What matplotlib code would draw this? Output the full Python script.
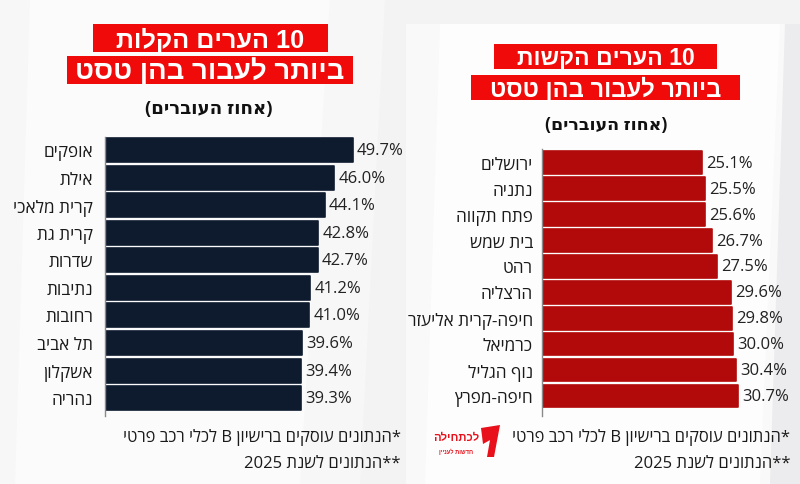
import re
import matplotlib
matplotlib.use("Agg")
import matplotlib.pyplot as plt
from matplotlib.patches import Rectangle, Polygon

plt.rcParams['font.family'] = ['Open Sans', 'DejaVu Sans']

# ---- data ----
easy_cities = ["אופקים", "אילת", "קרית מלאכי", "קרית גת", "שדרות",
               "נתיבות", "רחובות", "תל אביב", "אשקלון", "נהריה"]
easy_values = [49.7, 46.0, 44.1, 42.8, 42.7, 41.2, 41.0, 39.6, 39.4, 39.3]

hard_cities = ["ירושלים", "נתניה", "פתח תקווה", "בית שמש", "רהט",
               "הרצליה", "חיפה-קרית אליעזר", "כרמיאל", "נוף הגליל", "חיפה-מפרץ"]
hard_values = [25.1, 25.5, 25.6, 26.7, 27.5, 29.6, 29.8, 30.0, 30.4, 30.7]

easy_title = ["10 הערים הקלות", "ביותר לעבור בהן טסט"]
hard_title = ["10 הערים הקשות", "ביותר לעבור בהן טסט"]
subtitle = "(אחוז העוברים)"
footnotes = ["*הנתונים עוסקים ברישיון B לכלי רכב פרטי", "**הנתונים לשנת 2025"]
logo_main = "לכתחילה"
logo_sub = "חדשות לעניין"

TITLE_FONT = ['Liberation Sans', 'DejaVu Sans']


def vis(s):
    """Simple visual reordering for an RTL paragraph."""
    r = s[::-1]
    r = re.sub(r'[A-Za-z0-9.%]+', lambda m: m.group(0)[::-1], r)
    r = r.translate(str.maketrans('()', ')('))
    return r


W, H = 800, 485
fig = plt.figure(figsize=(W / 100, H / 100), dpi=100)
fig.patch.set_facecolor('#f3f3f4')
renderer = fig.canvas.get_renderer()


def rect(l, t, r, b):
    return [l / W, 1 - b / H, (r - l) / W, (b - t) / H]


# ---- background shapes ----
bg = fig.add_axes([0, 0, 1, 1], zorder=-10)
bg.set_xlim(0, W)
bg.set_ylim(H, 0)
bg.axis('off')
bg.add_patch(Polygon([[0, 0], [385, 0], [360, 485], [0, 485]], closed=True,
                     facecolor='#f7f7f8', edgecolor='none'))
bg.add_patch(Polygon([[30, 0], [330, 0], [300, 485], [15, 485]], closed=True,
                     facecolor='#fbfbfc', edgecolor='none'))
bg.add_patch(Rectangle((406, 25), 394, 460, facecolor='#f9f9fa', edgecolor='none'))
bg.add_patch(Polygon([[440, 25], [780, 25], [760, 485], [425, 485]], closed=True,
                     facecolor='#fdfdfd', edgecolor='none'))
bg.add_patch(Polygon([[785, 25], [800, 25], [800, 485], [770, 485]], closed=True,
                     facecolor='#ececee', edgecolor='none'))


def panel(ax_rect, cities, values, color, xmax, ylim, pad_pt, gap_pt):
    ax = fig.add_axes(ax_rect)
    ax.patch.set_alpha(0)
    y = list(range(len(cities)))
    ax.barh(y, values, height=0.87, color=color, edgecolor=color,
            linewidth=1.2, joinstyle='round')
    ax.set_xlim(0, xmax)
    ax.set_ylim(*ylim)
    ax.set_yticks(y)
    ax.set_yticklabels([vis(c) for c in cities], fontsize=12.3, color='#1a1a1a')
    ax.tick_params(axis='y', length=0, pad=pad_pt)
    ax.set_xticks([])
    for s in ['top', 'right', 'bottom']:
        ax.spines[s].set_visible(False)
    ax.spines['left'].set_color('#8a8a8a')
    ax.spines['left'].set_linewidth(1)
    for yi, v in zip(y, values):
        ax.annotate(f"{v:.1f}%", xy=(v, yi), xytext=(gap_pt, 0),
                    textcoords='offset points', ha='left', va='center',
                    fontsize=12, color='#222222')
    return ax


panel(rect(105, 138, 364, 417), easy_cities, easy_values, '#0e1b2f',
      52, (9.65, -0.48), 8.6, 3.0)
panel(rect(542, 150, 797, 417), hard_cities, hard_values, '#b20a0a',
      40, (9.77, -0.53), 6.5, 3.0)


def fitted_text(x, y, text, target_w, **kw):
    t = bg.text(x, y, text, fontsize=12, **kw)
    w = t.get_window_extent(renderer=renderer).width
    t.set_fontsize(12 * target_w / w)
    return t


def title_box(l, t, r, b, text, target_w):
    bg.add_patch(Rectangle((l, t), r - l, b - t, facecolor='#f00a0a',
                           edgecolor='none'))
    fitted_text((l + r) / 2, (t + b) / 2 + 1, vis(text), target_w,
                ha='center', va='center', fontweight='bold', color='white',
                family=TITLE_FONT)


# left titles
title_box(93, 25, 328, 53, easy_title[0], 188)
title_box(67, 57, 353, 85, easy_title[1], 268)
fitted_text(209, 109, vis(subtitle), 128, ha='center', va='center',
            fontweight='bold', color='#111111')

# right titles
title_box(494, 45, 717, 70, hard_title[0], 177)
title_box(471, 76, 740, 101, hard_title[1], 230)
fitted_text(606, 125, vis(subtitle), 122, ha='center', va='center',
            fontweight='bold', color='#111111')

# footnotes
for xr in (401, 790):
    bg.text(xr, 438, vis(footnotes[0]), ha='right', va='center', fontsize=12,
            color='#1a1a1a')
    bg.text(xr, 464, vis(footnotes[1]), ha='right', va='center', fontsize=12,
            color='#1a1a1a')

# logo
bg.add_patch(Polygon([[481, 429], [500, 426], [494, 458], [487, 458], [490, 441],
                      [483, 445]], closed=True, facecolor='#e8101a', edgecolor='none'))
fitted_text(456, 438, vis(logo_main), 46, ha='center', va='center',
            fontweight='bold', color='#e8101a', family=TITLE_FONT)
fitted_text(456, 452, vis(logo_sub), 34, ha='center', va='center',
            fontweight='bold', color='#e8101a', family=TITLE_FONT)

fig.savefig("out.png", dpi=100, facecolor=fig.get_facecolor())
